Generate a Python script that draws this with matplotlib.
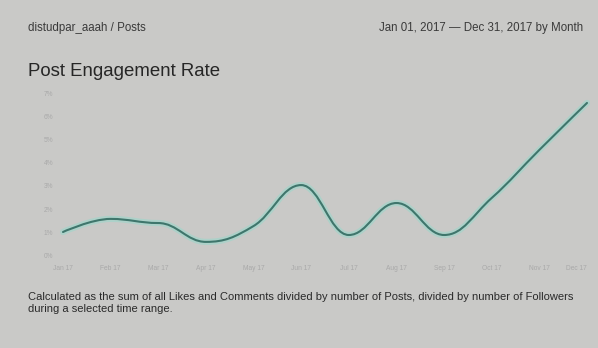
import numpy as np
import matplotlib
matplotlib.use("Agg")
import matplotlib.pyplot as plt
from matplotlib.path import Path
from matplotlib.patches import PathPatch

plt.rcParams['font.family'] = ['Liberation Sans', 'DejaVu Sans']

months = ["Jan 17", "Feb 17", "Mar 17", "Apr 17", "May 17", "Jun 17",
          "Jul 17", "Aug 17", "Sep 17", "Oct 17", "Nov 17", "Dec 17"]
rate = [1.0, 1.57, 1.39, 0.57, 1.26, 3.04, 0.87, 2.26, 0.87, 2.48, 4.57, 6.61]
ytick_vals = [0, 1, 2, 3, 4, 5, 6, 7]
ytick_labels = ["0%", "1%", "2%", "3%", "4%", "5%", "6%", "7%"]

header_left = "distudpar_aaah / Posts"
header_right = "Jan 01, 2017 \u2014 Dec 31, 2017 by Month"
title = "Post Engagement Rate"
footnote = ("Calculated as the sum of all Likes and Comments divided by number of Posts, "
            "divided by number of Followers\nduring a selected time range.")

BG = "#c9c9c7"
fig = plt.figure(figsize=(5.98, 3.48), dpi=100, facecolor=BG)
ax = fig.add_axes([60/598, 1-258/348, 530/598, 170/348], facecolor=BG)

x = np.arange(len(rate))
y = np.array(rate, dtype=float)

# smooth spline path (Highcharts-like) through the data points using Bezier segments
def spline_path(xs, ys, smoothing=1.5):
    verts = [(xs[0], ys[0])]
    codes = [Path.MOVETO]
    n = len(xs)
    def ctrl(i):
        if i == 0 or i == n - 1:
            return (xs[i], ys[i]), (xs[i], ys[i])
        denom = smoothing + 1
        lx = (smoothing * xs[i] + xs[i-1]) / denom
        ly = (smoothing * ys[i] + ys[i-1]) / denom
        rx = (smoothing * xs[i] + xs[i+1]) / denom
        ry = (smoothing * ys[i] + ys[i+1]) / denom
        if rx != lx:
            corr = ((ry - ly) * (rx - xs[i])) / (rx - lx) + ys[i] - ry
            ly += corr
            ry += corr
        if (ly > ys[i] and ly > ys[i-1]) or (ly < ys[i] and ly < ys[i-1]):
            ly = ys[i]; ry = 2 * ys[i] - ly
        if (ry > ys[i] and ry > ys[i+1]) or (ry < ys[i] and ry < ys[i+1]):
            ry = ys[i]; ly = 2 * ys[i] - ry
        return (lx, ly), (rx, ry)
    cps = [ctrl(i) for i in range(n)]
    for i in range(1, n):
        c1 = cps[i-1][1]
        c2 = cps[i][0]
        verts += [c1, c2, (xs[i], ys[i])]
        codes += [Path.CURVE4] * 3
    return Path(verts, codes)

p = spline_path(x, y)
ax.add_patch(PathPatch(p, fill=False, edgecolor="#92d9cb", lw=4.5, alpha=0.5, capstyle="round"))
ax.add_patch(PathPatch(p, fill=False, edgecolor="#3f766c", lw=1.5, capstyle="round"))
ax.plot(x, y, alpha=0)

ax.set_xlim(-3/47.64, 11 + 3/47.64)
ax.set_ylim(-0.13, 7.26)
ax.set_xticks(x)
ax.set_xticklabels(months, fontsize=4.8, color="#a9a9a9")
ax.get_xticklabels()[-1].set_horizontalalignment("right")
ax.set_yticks(ytick_vals)
ax.set_yticklabels(ytick_labels, fontsize=4.8, color="#a9a9a9")
ax.tick_params(length=0, pad=5)
for s in ax.spines.values():
    s.set_visible(False)

fig.text(28/598, 1-28/348, header_left, fontsize=8.3, color="#3a3a3a", va="center", ha="left")
fig.text(583/598, 1-28/348, header_right, fontsize=8.3, color="#3a3a3a", va="center", ha="right")
fig.text(28/598, 1-71/348, title, fontsize=13.4, color="#262626", va="center", ha="left")
fig.text(28/598, 1-302.5/348, footnote, fontsize=8.0, color="#2a2a2a", va="center", ha="left",
         linespacing=1.25)

fig.savefig("out.png", dpi=100, facecolor=BG)
